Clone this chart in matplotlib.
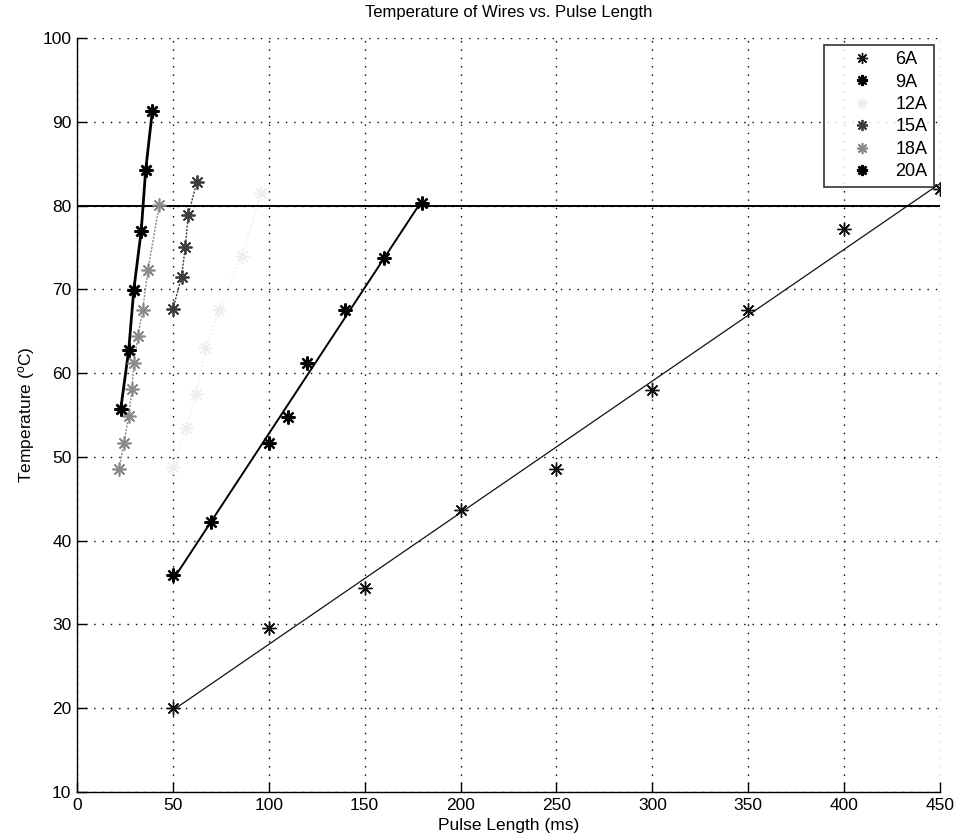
import numpy as np
import matplotlib
matplotlib.use("Agg")
import matplotlib.pyplot as plt
from matplotlib.lines import Line2D

plt.rcParams['font.family'] = ['Liberation Sans', 'DejaVu Sans']
plt.rcParams['mathtext.default'] = 'regular'

# ---- data ----
x_6A = [50, 100, 150, 200, 250, 300, 350, 400, 450]
y_6A = [20.0, 29.6, 34.3, 43.7, 48.5, 58.0, 67.5, 77.2, 82.0]

x_9A = [50, 70, 100, 110, 120, 140, 160, 180]
y_9A = [35.9, 42.2, 51.7, 54.8, 61.2, 67.5, 73.8, 80.3]

x_12A = [50, 57, 62, 67, 74, 86, 96]
y_12A = [48.8, 53.5, 57.5, 63.0, 67.5, 74.0, 81.5]

x_15A = [50, 54.5, 56.5, 58, 62.5]
y_15A = [67.6, 71.5, 75.1, 78.9, 82.8]

x_18A = [22, 24.5, 27, 28.7, 29.6, 31.8, 34.2, 37, 42.9]
y_18A = [48.6, 51.7, 54.9, 58.1, 61.2, 64.4, 67.5, 72.3, 80.1]

x_20A = [22.8, 27.0, 29.6, 33.5, 35.8, 39.3]
y_20A = [55.7, 62.8, 69.9, 77.0, 84.2, 91.3]

limit_temp = 80
labels = ['6A', '9A', '12A', '15A', '18A', '20A']
colors = ['#111111', '#000000', '#eeeeee', '#3c3c3c', '#8a8a8a', '#000000']

fig = plt.figure(figsize=(9.61, 8.40), dpi=100)
ax = fig.add_axes([0.0801, 0.0571, 0.8981, 0.8976])

star = (8, 2, 0)

# fitted lines for 6A and 9A
for xs, ys, c, lw in [(x_6A, y_6A, colors[0], 0.9), (x_9A, y_9A, colors[1], 1.4)]:
    p = np.polyfit(xs, ys, 1)
    xe = np.array([min(xs), max(xs)])
    ax.plot(xe, np.polyval(p, xe), color=c, lw=lw, zorder=3)

ax.plot(x_12A, y_12A, color=colors[2], lw=1.0, ls=(0, (1.5, 1.5)), zorder=3)
ax.plot(x_15A, y_15A, color=colors[3], lw=1.0, ls=(0, (1.5, 1.0)), zorder=3)
ax.plot(x_18A, y_18A, color=colors[4], lw=1.0, ls=(0, (1.5, 1.0)), zorder=3)
ax.plot(x_20A, y_20A, color=colors[5], lw=2.0, zorder=3)

series = [(x_6A, y_6A), (x_9A, y_9A), (x_12A, y_12A), (x_15A, y_15A), (x_18A, y_18A), (x_20A, y_20A)]
mews = [1.0, 1.6, 1.0, 1.3, 1.2, 1.8]
for (xs, ys), c, mew in zip(series, colors, mews):
    ax.plot(xs, ys, ls='none', marker=star, ms=10, mew=mew, color=c, zorder=4)

ax.axhline(limit_temp, color='black', lw=1.4, zorder=3)

ax.set_xlim(0, 450)
ax.set_ylim(10, 100)
ax.set_xticks(np.arange(0, 451, 50))
ax.set_yticks(np.arange(10, 101, 10))
ax.tick_params(direction='in', length=7, width=1, labelsize=12.5, top=False, right=False, pad=4)
ax.grid(True, color='black', ls=(0, (1, 5)), lw=1.0)
ax.set_axisbelow(True)
for s in ['top', 'right']:
    ax.spines[s].set_visible(False)
for s in ['left', 'bottom']:
    ax.spines[s].set_linewidth(1.0)

ax.set_title('Temperature of Wires vs. Pulse Length', fontsize=12, pad=15)
ax.set_xlabel('Pulse Length (ms)', fontsize=12.5, labelpad=4)
ax.set_ylabel('Temperature ($^o$C)', fontsize=12.5, labelpad=4)

handles = [Line2D([], [], ls='none', marker=star, ms=8, mew=m, color=c) for c, m in zip(colors, mews)]
leg = ax.legend(handles, labels, loc='upper right', bbox_to_anchor=(0.9925, 0.991),
                fontsize=13, frameon=True, fancybox=False, edgecolor='black',
                handlelength=3.5, handletextpad=0.1, labelspacing=0.3, borderpad=0.35,
                borderaxespad=0)
leg.get_frame().set_linewidth(1.2)
leg.set_zorder(5)

fig.savefig('out.png', dpi=100)
